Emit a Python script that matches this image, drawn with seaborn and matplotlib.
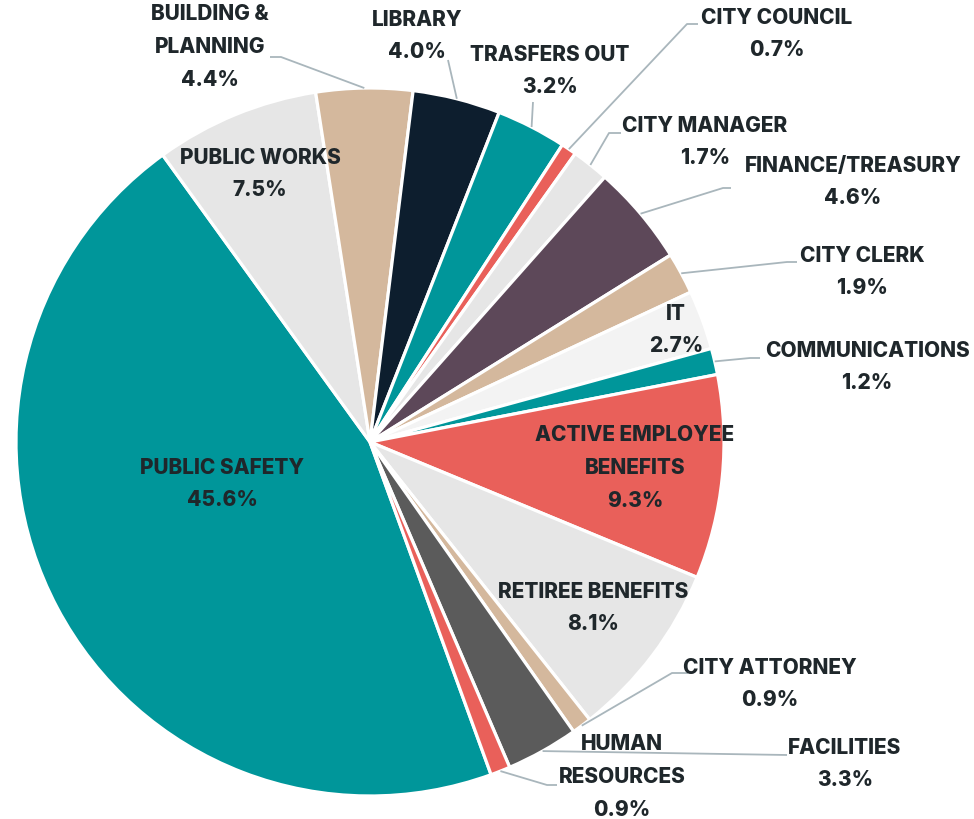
import numpy as np
import matplotlib
matplotlib.use("Agg")
import matplotlib.pyplot as plt
import seaborn as sns

# ---------------- data ----------------
categories = ["Public Safety", "Public Works", "Building & Planning", "Library",
              "Trasfers Out", "City Council", "City Manager", "Finance/Treasury",
              "City Clerk", "IT", "Communications", "Active Employee Benefits",
              "Retiree Benefits", "City Attorney", "Facilities", "Human Resources"]
shares = [45.6, 7.5, 4.4, 4.0, 3.2, 0.7, 1.7, 4.6, 1.9, 2.7, 1.2, 9.3, 8.1, 0.9, 3.3, 0.9]
label_names = ["PUBLIC SAFETY", "PUBLIC WORKS", "BUILDING &\nPLANNING", "LIBRARY",
               "TRASFERS OUT", "CITY COUNCIL", "CITY MANAGER", "FINANCE/TREASURY",
               "CITY CLERK", "IT", "COMMUNICATIONS", "ACTIVE EMPLOYEE\nBENEFITS",
               "RETIREE BENEFITS", "CITY ATTORNEY", "FACILITIES", "HUMAN\nRESOURCES"]
slice_colors = ["#00969A", "#E6E6E6", "#D4B89D", "#0D1E2E", "#00969A", "#E9605A",
                "#E6E6E6", "#5D4859", "#D4B89D", "#F3F3F3", "#00969A", "#E9605A",
                "#E6E6E6", "#D4B89D", "#5B5B5B", "#E9605A"]

# ---------------- layout (pixels, top-down) ----------------
W, H = 974, 819
CX, CY, R = 370, 442, 354

# label centre positions
label_pos = [(222, 484), (260, 174), (210, 47), (417, 36), (550, 71), (777, 34),
             (705, 142), (853, 182), (862, 272), (676, 330), (867, 367), (635, 468),
             (593, 608), (770, 684), (845, 764), (622, 777)]
# leader lines: points from label side to elbow; last point on the slice is computed
leaders = {
    2: [(270, 57), (281, 57)],
    3: [(448, 60)],
    4: [(533, 102)],
    5: [(698, 24), (687, 24)],
    6: [(621, 133), (609, 133)],
    7: [(731, 188), (723, 188)],
    8: [(797, 262), (787, 262)],
    10: [(760, 358), (750, 358)],
    13: [(688, 673), (672, 673)],
    14: [(787, 755)],
    15: [(557, 785), (547, 785)],
}

sns.set_theme(style="white")
plt.rcParams["font.family"] = ["Inter", "DejaVu Sans"]

fig = plt.figure(figsize=(W / 100, H / 100), dpi=100)
ax = fig.add_axes([0, 0, 1, 1])

def P(x, y):
    return x, H - y

palette = sns.color_palette(slice_colors)
wedges, _ = ax.pie(shares, colors=palette, startangle=-70, counterclock=False,
                   radius=R, center=P(CX, CY),
                   wedgeprops=dict(edgecolor="white", linewidth=2.3))

ax.set_xlim(0, W)
ax.set_ylim(0, H)
ax.set_aspect("equal")
ax.axis("off")

line_color = "#A9B6BC"
for i, pts in leaders.items():
    w = wedges[i]
    mid = np.deg2rad((w.theta1 + w.theta2) / 2)
    ex = CX + R * np.cos(mid)
    ey = H - CY + R * np.sin(mid)
    xs = [P(*p)[0] for p in pts] + [ex]
    ys = [P(*p)[1] for p in pts] + [ey]
    ax.plot(xs, ys, color=line_color, lw=1.3, solid_capstyle="butt", zorder=1)

for name, val, (lx, ly) in zip(label_names, shares, label_pos):
    ax.text(*P(lx, ly), f"{name}\n{val:.1f}%", ha="center", va="center",
            fontsize=15, fontweight=800, color="#1F272B",
            linespacing=1.8, multialignment="center", zorder=5)

fig.savefig("out.png", dpi=100, facecolor="white")
